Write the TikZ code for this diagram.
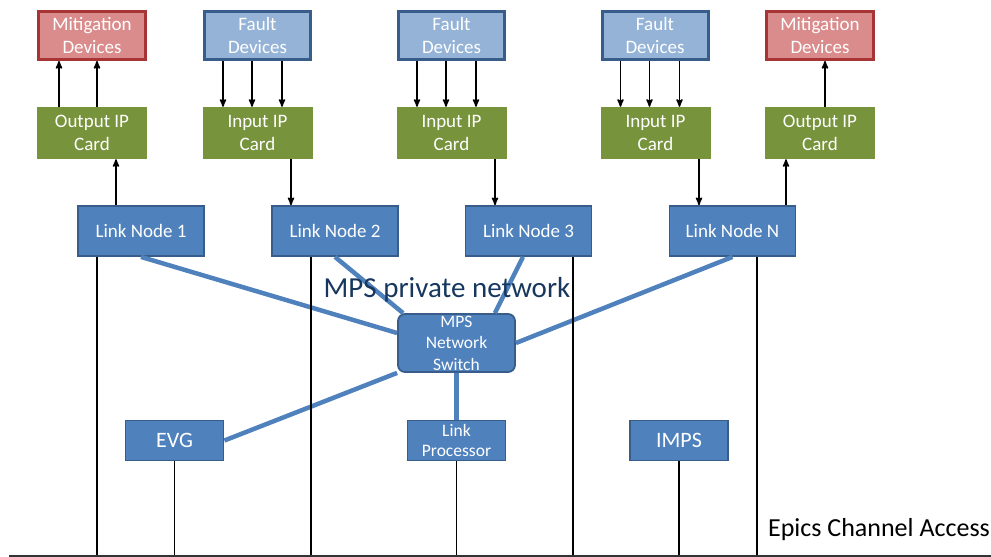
\documentclass[tikz,border=0pt]{standalone}
\usepackage{fontspec}
\setmainfont{Carlito}
\usetikzlibrary{arrows}
\definecolor{nodeblue}{HTML}{4F81BD}
\definecolor{nodeedge}{HTML}{385D8A}
\definecolor{faultblue}{HTML}{95B3D7}
\definecolor{mitred}{HTML}{DA8C8C}
\definecolor{mitedge}{HTML}{A83535}
\definecolor{cardgreen}{HTML}{77933C}
\definecolor{labelblue}{HTML}{17375E}
\tikzset{
  box/.style = {align=center, inner sep=0pt, text centered, text=white, font=\fontsize{19}{23}\selectfont},
  mit/.style = {box, fill=mitred, draw=mitedge, line width=3pt, minimum width=107pt, minimum height=48pt},
  fault/.style = {box, fill=faultblue, draw=nodeedge, line width=3pt, minimum width=106pt, minimum height=48pt},
  card/.style = {box, fill=cardgreen, minimum width=110pt, minimum height=52pt},
  ln/.style = {box, fill=nodeblue, draw=nodeedge, line width=1.8pt, minimum width=126pt, minimum height=50pt},
  switch/.style = {box, fill=nodeblue, draw=nodeedge, line width=1.8pt, rounded corners=7pt, minimum width=117pt, minimum height=58pt, font=\fontsize{17.5}{21.5}\selectfont},
  small/.style = {box, fill=nodeblue, draw=nodeedge, line width=1.8pt, minimum width=98pt, minimum height=40pt, font=\fontsize{22}{26}\selectfont},
  lp/.style = {small, font=\fontsize{17.5}{20}\selectfont},
  sig/.style = {line width=1.6pt, black},
  net/.style = {line width=4.5pt, nodeblue},
  bus/.style = {line width=1.8pt, black}
}
\begin{document}
\begin{tikzpicture}[>=stealth', x=1pt, y=-1pt]
\useasboundingbox (0,0) rectangle (991,557);

% devices
\node [mit]   (mit1)   at (92,35.5)    {Mitigation\\Devices};
\node [fault] (fault1) at (257.5,35.5) {Fault\\Devices};
\node [fault] (fault2) at (451.5,35.5) {Fault\\Devices};
\node [fault] (fault3) at (655,35.5)   {Fault\\Devices};
\node [mit]   (mit2)   at (820,35.5)   {Mitigation\\Devices};

% ip cards
\node [card] (out1) at (92,133)    {Output IP\\Card};
\node [card] (in1)  at (257.5,133) {Input IP\\Card};
\node [card] (in2)  at (451.5,133) {Input IP\\Card};
\node [card] (in3)  at (655.5,133) {Input IP\\Card};
\node [card] (out2) at (820,133)   {Output IP\\Card};

% link nodes
\node [ln] (ln1) at (141,231)   {Link Node 1};
\node [ln] (ln2) at (335,231)   {Link Node 2};
\node [ln] (ln3) at (528.5,231) {Link Node 3};
\node [ln] (lnn) at (732.5,231) {Link Node N};

\node [switch] (sw) at (456.5,343) {MPS\\Network\\Switch};
\node [small] (evg)  at (174.5,440.5) {EVG};
\node [lp]    (lp)   at (456.5,440.5) {Link\\Processor};
\node [small] (imps) at (679,440.5)   {IMPS};

\coordinate (busL) at (9,556);
\coordinate (busR) at (991,556);

% private network
\draw [net] (ln1.south) -- ([yshift=10pt]sw.west);
\draw [net] (ln2.south) -- ([xshift=6pt]sw.north west);
\draw [net] ([xshift=-5.5pt]ln3.south) -- ([xshift=-21pt]sw.north east);
\draw [net] (lnn.south) -- (sw.east);
\draw [net] (evg.east) -- (sw.south west);
\draw [net] (sw.south) -- (lp.north);
\node [text=labelblue, font=\fontsize{29}{34}\selectfont] (netname) at (447,290) {MPS private network};

% fault inputs
\foreach \f/\c in {fault1/in1, fault2/in2, fault3/in3}
  \foreach \dx in {-34.5,-5.5,24.5}
    \draw [sig,->] ([xshift=\dx pt]\f.south) -- ([xshift=\dx pt]\f.south |- \c.north);

% mitigation outputs
\foreach \dx in {-33,5}
  \draw [sig,->] ([xshift=\dx pt]out1.north) -- ([xshift=\dx pt]out1.north |- mit1.south);
\draw [sig,->] ([xshift=5pt]out2.north) -- ([xshift=5pt]out2.north |- mit2.south);

% cards to link nodes
\draw [sig,->] ([xshift=-25pt]ln1.north) -- ([xshift=-25pt]ln1.north |- out1.south);
\draw [sig,->] ([xshift=33.5pt]in1.south) -- ([xshift=33.5pt]in1.south |- ln2.north);
\draw [sig,->] ([xshift=43.5pt]in2.south) -- ([xshift=43.5pt]in2.south |- ln3.north);
\draw [sig,->] ([xshift=43.5pt]in3.south) -- ([xshift=43.5pt]in3.south |- lnn.north);
\draw [sig,->] ([xshift=53.5pt]lnn.north) -- ([xshift=53.5pt]lnn.north |- out2.south);

% channel access
\foreach \n/\dx in {ln1/-44, ln2/-24, ln3/44.5, lnn/24.5, evg/0, lp/0, imps/0}
  \draw [bus] ([xshift=\dx pt]\n.south) -- ([xshift=\dx pt]\n.south |- busL);
\draw [line width=1.2pt, black!80] (busL) -- (busR);
\node [font=\fontsize{26}{30}\selectfont] (epics) at (879,530) {Epics Channel Access};
\end{tikzpicture}
\end{document}
